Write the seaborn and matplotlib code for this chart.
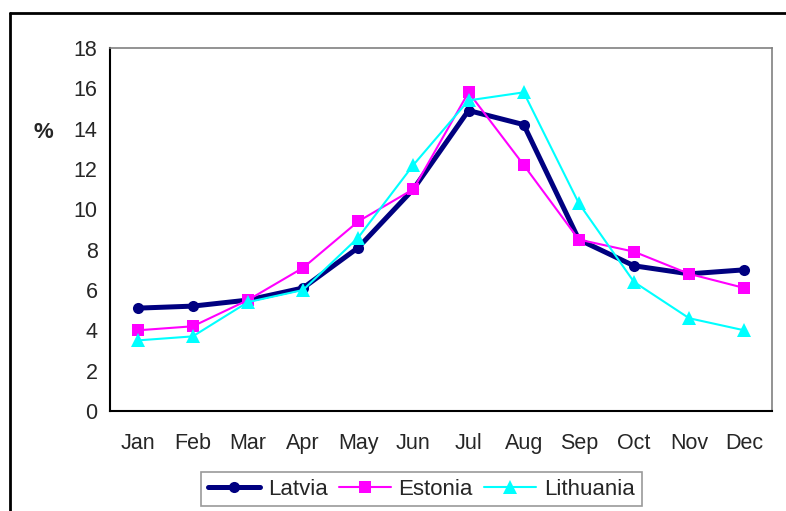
import pandas as pd
import seaborn as sns
import matplotlib.pyplot as plt
from matplotlib.lines import Line2D

# Monthly shares (%)
months = ['Jan', 'Feb', 'Mar', 'Apr', 'May', 'Jun', 'Jul', 'Aug', 'Sep', 'Oct', 'Nov', 'Dec']
latvia = [5.1, 5.2, 5.5, 6.1, 8.1, 11.0, 14.9, 14.2, 8.5, 7.2, 6.8, 7.0]
estonia = [4.0, 4.2, 5.5, 7.1, 9.4, 11.0, 15.8, 12.2, 8.5, 7.9, 6.8, 6.1]
lithuania = [3.5, 3.7, 5.4, 6.0, 8.6, 12.2, 15.4, 15.8, 10.3, 6.4, 4.6, 4.0]
countries = ['Latvia', 'Estonia', 'Lithuania']

df = pd.DataFrame({
    'month': months * 3,
    'value': latvia + estonia + lithuania,
    'country': [c for c in countries for _ in months],
})

sns.set_style('white')
plt.rcParams['font.family'] = ['Liberation Sans', 'DejaVu Sans']

fig = plt.figure(figsize=(7.86, 5.11), dpi=100)
ax = fig.add_axes([0.14, 0.1957, 0.842, 0.7104])

styles = {
    'Latvia': dict(color='#000080', marker='o', lw=3.6, ms=8),
    'Estonia': dict(color='#FF00FF', marker='s', lw=1.5, ms=9),
    'Lithuania': dict(color='#00FFFF', marker='^', lw=1.5, ms=10.5),
}
for c in countries:
    s = styles[c]
    sns.lineplot(data=df[df['country'] == c], x='month', y='value', ax=ax,
                 color=s['color'], marker=s['marker'], linewidth=s['lw'],
                 markersize=s['ms'], markeredgewidth=0, label=c, sort=False)

ax.set_xlim(-0.5, 11.5)
ax.set_ylim(0, 18)
ax.set_yticks(range(0, 19, 2))
ax.set_xticks(range(12))
ax.set_xticklabels(months)
ax.set_xticks([i + 0.5 for i in range(-1, 12)], minor=True)
ax.tick_params(axis='x', which='major', length=0, pad=16, labelsize=15.5)
ax.tick_params(axis='x', which='minor', length=5, width=1, color='black', direction='out')
ax.tick_params(axis='y', length=5, width=1, color='black', direction='out', labelsize=15.5, pad=4)
ax.set_xlabel('')
ax.set_ylabel('%', rotation=0, fontsize=16, fontweight='bold')
ax.yaxis.set_label_coords(-0.1, 0.766)
ax.yaxis.label.set_verticalalignment('center')

for side in ['left', 'bottom']:
    ax.spines[side].set_color('black')
    ax.spines[side].set_linewidth(1.5)
for side in ['top', 'right']:
    ax.spines[side].set_visible(True)
    ax.spines[side].set_color('#808080')
    ax.spines[side].set_linewidth(1.2)

leg = ax.legend(loc='center', bbox_to_anchor=(0.536, 0.043), bbox_transform=fig.transFigure,
                ncol=3, fontsize=16, frameon=True, fancybox=False, edgecolor='#808080',
                handlelength=2.35, columnspacing=0.5, handletextpad=0.35, borderpad=0.3)
leg.get_frame().set_linewidth(1.2)

# outer chart border (left and top visible)
fig.add_artist(Line2D([10 / 786, 10 / 786], [0, 1 - 13 / 511], color='black', lw=2,
                      transform=fig.transFigure))
fig.add_artist(Line2D([10 / 786, 1], [1 - 13 / 511, 1 - 13 / 511], color='black', lw=2,
                      transform=fig.transFigure))

fig.savefig('out.png', dpi=100)
